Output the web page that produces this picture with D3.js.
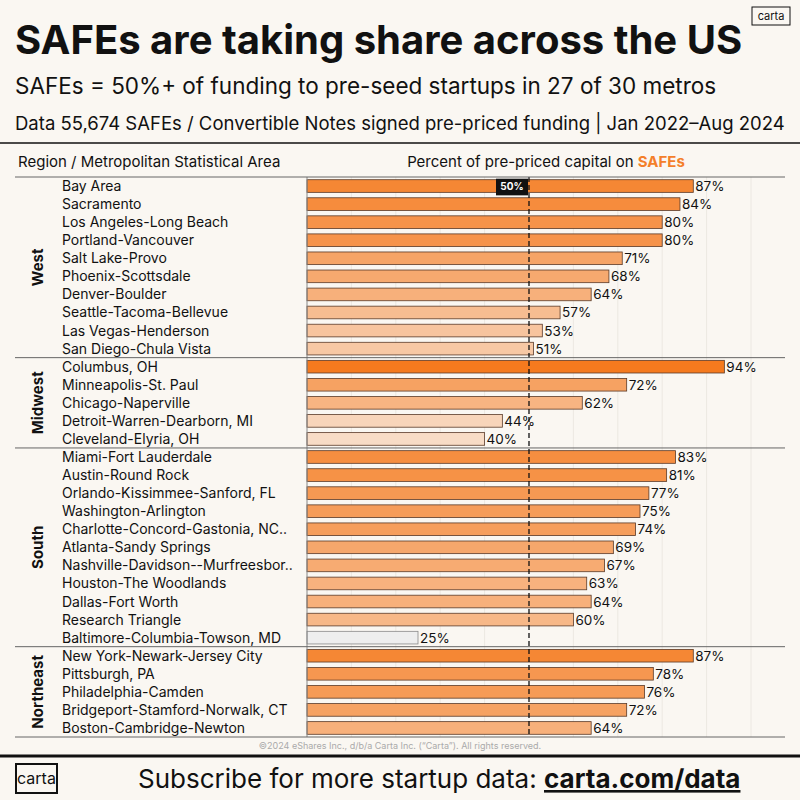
<!DOCTYPE html><html><head><meta charset="utf-8"><script src="https://cdn.jsdelivr.net/npm/d3@7"></script>
<style>body{margin:0;background:#faf7f2}svg{display:block;font-family:Inter,"Noto Sans",sans-serif}</style></head><body>
<svg id="c" width="800" height="800"></svg>
<script>
const regions=["West","Midwest","South","Northeast"];
const metros=["Bay Area","Sacramento","Los Angeles-Long Beach","Portland-Vancouver","Salt Lake-Provo","Phoenix-Scottsdale","Denver-Boulder","Seattle-Tacoma-Bellevue","Las Vegas-Henderson","San Diego-Chula Vista",
"Columbus, OH","Minneapolis-St. Paul","Chicago-Naperville","Detroit-Warren-Dearborn, MI","Cleveland-Elyria, OH",
"Miami-Fort Lauderdale","Austin-Round Rock","Orlando-Kissimmee-Sanford, FL","Washington-Arlington","Charlotte-Concord-Gastonia, NC..","Atlanta-Sandy Springs","Nashville-Davidson--Murfreesbor..","Houston-The Woodlands","Dallas-Fort Worth","Research Triangle","Baltimore-Columbia-Towson, MD",
"New York-Newark-Jersey City","Pittsburgh, PA","Philadelphia-Camden","Bridgeport-Stamford-Norwalk, CT","Boston-Cambridge-Newton"];
const metroRegion=[0,0,0,0,0,0,0,0,0,0,1,1,1,1,1,2,2,2,2,2,2,2,2,2,2,2,3,3,3,3,3];
const values=[87,84,80,80,71,68,64,57,53,51,94,72,62,44,40,83,81,77,75,74,69,67,63,64,60,25,87,78,76,72,64];
const svg=d3.select("#c");
svg.append("rect").attr("width",800).attr("height",800).attr("fill","#faf7f2");
const T=(x,y,t,o={})=>svg.append("text").attr("x",x).attr("y",y).text(t).attr("font-size",o.s||14).attr("font-weight",o.w||400).attr("fill",o.f||"#111").attr("text-anchor",o.a||"start");
T(15,54,"SAFEs are taking share across the US",{s:40,w:700});
T(15,94,"SAFEs = 50%+ of funding to pre-seed startups in 27 of 30 metros",{s:22.5});
T(15,130,"Data 55,674 SAFEs / Convertible Notes signed pre-priced funding | Jan 2022–Aug 2024",{s:18.5});
svg.append("rect").attr("x",752).attr("y",7).attr("width",38).attr("height",18).attr("fill","none").attr("stroke","#111");
T(771,20,"carta",{s:11,a:"middle"});
svg.append("line").attr("x1",0).attr("x2",800).attr("y1",143).attr("y2",143).attr("stroke","#111").attr("stroke-width",1.5);
T(18,167,"Region / Metropolitan Statistical Area",{s:15});
const ht=T(546,167,"Percent of pre-priced capital on ",{s:15,a:"middle"});
ht.append("tspan").text("SAFEs").attr("font-weight",700).attr("fill","#f47f2a");
const x=d3.scaleLinear().domain([0,100]).range([307,751]);
const y=d3.scaleBand().domain(d3.range(metros.length)).range([177,737]).paddingInner(0.3).paddingOuter(0.15);
const step=y.step();
const col=v=>v<30?"#eeeeee":d3.interpolateRgb("#f8dcc6","#f57a1e")((v-40)/54);
[10,20,30,40,60,70,80,90,100].forEach(t=>svg.append("line").attr("x1",x(t)).attr("x2",x(t)).attr("y1",177).attr("y2",737).attr("stroke","#ece8e2"));
svg.selectAll(".bar").data(values).join("rect").attr("x",x(0)).attr("y",(d,i)=>y(i)).attr("width",d=>x(d)-x(0)).attr("height",y.bandwidth())
 .attr("fill",d=>col(d)).attr("stroke",d=>d<30?"#888":"#5a3a28").attr("stroke-width",0.8);
svg.selectAll(".vl").data(values).join("text").attr("x",d=>x(d)+2).attr("y",(d,i)=>y(i)+y.bandwidth()/2+5).text(d=>d+"%").attr("font-size",13.5).attr("fill","#111");
svg.selectAll(".ml").data(metros).join("text").attr("x",62).attr("y",(d,i)=>y(i)+y.bandwidth()/2+5).text(d=>d).attr("font-size",14).attr("fill","#111");
svg.append("line").attr("x1",x(50)).attr("x2",x(50)).attr("y1",177).attr("y2",737).attr("stroke","#111").attr("stroke-width",1.3).attr("stroke-dasharray","5,3");
svg.append("rect").attr("x",x(50)-33).attr("y",y(0)-1).attr("width",32).attr("height",y.bandwidth()+4).attr("fill","#111");
T(x(50)-17,y(0)+y.bandwidth()/2+4,"50%",{s:10,w:700,f:"#fff",a:"middle"});
svg.append("line").attr("x1",x(0)).attr("x2",x(0)).attr("y1",177).attr("y2",737).attr("stroke","#888");
regions.forEach((r,ri)=>{const idx=metroRegion.map((m,i)=>m===ri?i:-1).filter(i=>i>=0);
 const y0=ri===0?177:y(idx[0])-step*0.15, y1=ri===3?737:y(idx[idx.length-1])+y.bandwidth()+step*0.15;
 svg.append("line").attr("x1",15).attr("x2",785).attr("y1",y0).attr("y2",y0).attr("stroke","#666");
 if(ri===3)svg.append("line").attr("x1",15).attr("x2",785).attr("y1",y1).attr("y2",y1).attr("stroke","#666");
 svg.append("text").attr("transform",`translate(43,${(y0+y1)/2}) rotate(-90)`).attr("text-anchor","middle").text(r).attr("font-size",15).attr("font-weight",700).attr("fill","#111");
});
T(400,749,"©2024 eShares Inc., d/b/a Carta Inc. (“Carta”). All rights reserved.",{s:9,f:"#aaa",a:"middle"});
svg.append("line").attr("x1",0).attr("x2",800).attr("y1",756).attr("y2",756).attr("stroke","#111").attr("stroke-width",3);
svg.append("rect").attr("x",16).attr("y",764).attr("width",41).attr("height",29).attr("fill","none").attr("stroke","#111").attr("stroke-width",2);
T(36.5,784,"carta",{s:16,a:"middle"});
const sub=T(138,788,"Subscribe for more startup data: ",{s:26});
sub.append("tspan").attr("font-weight",700).attr("text-decoration","underline").text("carta.com/data");
</script></body></html>
